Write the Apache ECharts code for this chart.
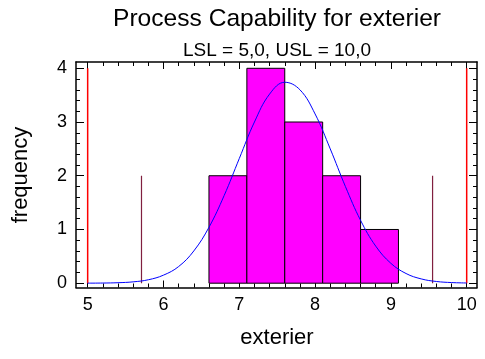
<!DOCTYPE html>
<html><head><meta charset="utf-8">
<script src="https://cdn.jsdelivr.net/npm/echarts@6/dist/echarts.min.js"></script>
<style>html,body{margin:0;padding:0;background:#fff}#c{width:485px;height:359px}</style>
</head><body><div id="c"></div>
<script>
// ---- data ----
const binEdges = [6.6, 7.1, 7.6, 8.1, 8.6, 9.1];
const binCounts = [2, 4, 3, 2, 1];
const curveX = [5.0, 5.2, 5.4, 5.6, 5.8, 6.0, 6.2, 6.4, 6.6, 6.8, 7.0, 7.2, 7.4, 7.6, 7.8, 8.0, 8.2, 8.4, 8.6, 8.8, 9.0, 9.2, 9.4, 9.6, 9.8, 10.0];
const curveY = [0.001, 0.003, 0.009, 0.025, 0.064, 0.15, 0.31, 0.60, 1.04, 1.63, 2.32, 3.00, 3.52, 3.74, 3.60, 3.15, 2.50, 1.80, 1.17, 0.69, 0.37, 0.18, 0.08, 0.032, 0.012, 0.004];
const specLimits = [5.0, 10.0];
const specLineHeight = 4;
const sigmaLimits = [5.71, 9.55];
const sigmaLineHeight = 2;
const xMajorTicks = [5, 6, 7, 8, 9, 10];
const xMinorTicks = [5.2, 5.4, 5.6, 5.8, 6.2, 6.4, 6.6, 6.8, 7.2, 7.4, 7.6, 7.8, 8.2, 8.4, 8.6, 8.8, 9.2, 9.4, 9.6, 9.8];
const yMajorTicks = [0, 1, 2, 3, 4];
const yMinorTicks = [0.2, 0.4, 0.6, 0.8, 1.2, 1.4, 1.6, 1.8, 2.2, 2.4, 2.6, 2.8, 3.2, 3.4, 3.6, 3.8];
const titleText = 'Process Capability for exterier';
const subtitleText = 'LSL = 5,0, USL = 10,0';
const xName = 'exterier';
const yName = 'frequency';

// ---- chart ----
const FONT = '"Liberation Sans", Arial, sans-serif';
const X_MIN = 4.846, X_MAX = 10.136, Y_MIN = -0.08, Y_MAX = 4.117;

function xAx(pos, ticks, len, labels, line) {
  return {
    type: 'value', position: pos, min: X_MIN, max: X_MAX,
    axisLine: {show: line, onZero: false, lineStyle: {color: '#000', width: 1.5}},
    axisTick: {show: true, inside: true, length: len, customValues: ticks, lineStyle: {color: '#000', width: 1}},
    axisLabel: labels ? {show: true, customValues: ticks, margin: 9, fontSize: 18, color: '#000', fontFamily: FONT} : {show: false},
    splitLine: {show: false}
  };
}
function yAx(pos, ticks, len, labels, line) {
  return {
    type: 'value', position: pos, min: Y_MIN, max: Y_MAX,
    axisLine: {show: line, onZero: false, lineStyle: {color: '#000', width: 1.5}},
    axisTick: {show: true, inside: true, length: len, customValues: ticks, lineStyle: {color: '#000', width: 1}},
    axisLabel: labels ? {show: true, customValues: ticks, margin: 9, fontSize: 18, color: '#000', fontFamily: FONT} : {show: false},
    splitLine: {show: false}
  };
}

const chart = echarts.init(document.getElementById('c'), null, {renderer: 'canvas'});
const series = [];
series.push({
  type: 'custom',
  xAxisIndex: 0, yAxisIndex: 0,
  data: binCounts.map((c, i) => [binEdges[i], binEdges[i + 1], c]),
  encode: {x: [0, 1], y: 2},
  renderItem: function (params, api) {
    const p0 = api.coord([api.value(0), 0]);
    const p1 = api.coord([api.value(1), api.value(2)]);
    return {
      type: 'rect',
      shape: {x: p0[0], y: p1[1], width: p1[0] - p0[0], height: p0[1] - p1[1]},
      style: {fill: '#ff00ff', stroke: '#000', lineWidth: 1}
    };
  },
  z: 2
});
specLimits.forEach(v => series.push({
  type: 'line', xAxisIndex: 0, yAxisIndex: 0, symbol: 'none',
  data: [[v, 0], [v, specLineHeight]],
  lineStyle: {color: '#ff0000', width: 1.5}, z: 3
}));
sigmaLimits.forEach(v => series.push({
  type: 'line', xAxisIndex: 0, yAxisIndex: 0, symbol: 'none',
  data: [[v, 0], [v, sigmaLineHeight]],
  lineStyle: {color: '#80203f', width: 1.2}, z: 3
}));
series.push({
  type: 'line', xAxisIndex: 0, yAxisIndex: 0, symbol: 'none', smooth: 0.4,
  data: curveX.map((x, i) => [x, curveY[i]]),
  lineStyle: {color: '#0000ff', width: 1}, z: 4
});

chart.setOption({
  animation: false,
  backgroundColor: '#fff',
  grid: {left: 76, right: 8, top: 62, bottom: 71.5},
  xAxis: [
    xAx('bottom', xMajorTicks, 7, true, true),
    xAx('bottom', xMinorTicks, 4, false, false),
    xAx('top', xMajorTicks, 7, false, true),
    xAx('top', xMinorTicks, 4, false, false)
  ],
  yAxis: [
    yAx('left', yMajorTicks, 8, true, true),
    yAx('left', yMinorTicks, 4, false, false),
    yAx('right', yMajorTicks, 8, false, true),
    yAx('right', yMinorTicks, 4, false, false)
  ],
  series: series,
  graphic: [
    {type: 'text', x: 277, y: 19, style: {text: titleText, fontSize: 24.6, fontFamily: FONT, fill: '#000', align: 'center', verticalAlign: 'middle'}},
    {type: 'text', x: 277, y: 50.5, style: {text: subtitleText, fontSize: 19, fontFamily: FONT, fill: '#000', align: 'center', verticalAlign: 'middle'}},
    {type: 'text', x: 277, y: 338, style: {text: xName, fontSize: 22, fontFamily: FONT, fill: '#000', align: 'center', verticalAlign: 'middle'}},
    {type: 'text', x: 21, y: 175, rotation: Math.PI / 2, style: {text: yName, fontSize: 22, fontFamily: FONT, fill: '#000', align: 'center', verticalAlign: 'middle'}}
  ]
});
</script>
</body></html>
